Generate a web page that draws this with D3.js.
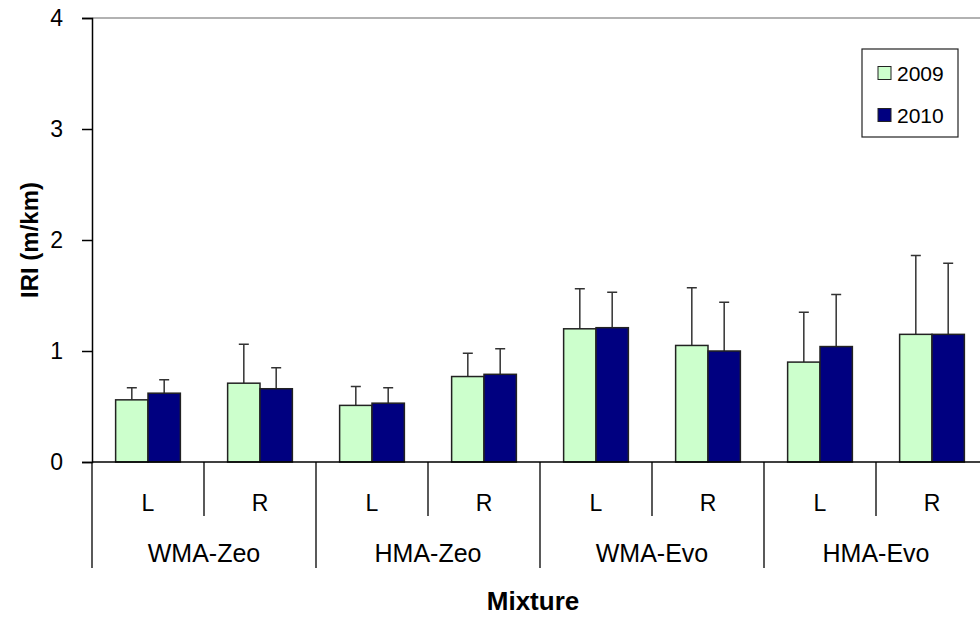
<!DOCTYPE html>
<html>
<head>
<meta charset="utf-8">
<script src="https://cdn.jsdelivr.net/npm/d3@7"></script>
<style>
  body { margin: 0; background: #fff; }
  svg text { font-family: "Liberation Sans", Arial, sans-serif; fill: #000; }
</style>
</head>
<body>
<div id="chart"></div>
<script>
// data
var groups = ["WMA-Zeo", "HMA-Zeo", "WMA-Evo", "HMA-Evo"];
var sides = ["L", "R"];
var years = ["2009", "2010"];
var iri2009 = [0.56, 0.71, 0.51, 0.77, 1.20, 1.05, 0.90, 1.15];
var iri2010 = [0.62, 0.66, 0.53, 0.79, 1.21, 1.00, 1.04, 1.15];
var err2009 = [0.11, 0.35, 0.17, 0.21, 0.36, 0.52, 0.45, 0.71];
var err2010 = [0.12, 0.19, 0.14, 0.23, 0.32, 0.44, 0.47, 0.64];
var yTicks = [0, 1, 2, 3, 4];

var width = 980, height = 617;
var plot = {left: 92, top: 18, right: 988, bottom: 462};

var svg = d3.select("#chart").append("svg")
    .attr("width", width)
    .attr("height", height);

// one band per group/side pair
var keys = [];
groups.forEach(function(g) { sides.forEach(function(s) { keys.push(g + "|" + s); }); });

var rows = keys.map(function(k, i) {
  return { key: k, side: k.split("|")[1], vals: [
    { year: "2009", v: iri2009[i], e: err2009[i] },
    { year: "2010", v: iri2010[i], e: err2010[i] }
  ]};
});

var x0 = d3.scaleBand().domain(keys).range([plot.left, plot.right]).padding(0);
var bw = x0.bandwidth();
var x1 = d3.scaleBand().domain(years).range([bw * 0.211, bw * 0.789]).padding(0);
var xg = d3.scaleBand().domain(groups).range([plot.left, plot.right]).padding(0);

var y = d3.scaleLinear().domain([0, 4]).range([plot.bottom, plot.top]);

var color = d3.scaleOrdinal().domain(years).range(["#ccffcc", "#000080"]);

// top border line
svg.append("line")
    .attr("x1", plot.left).attr("x2", plot.right)
    .attr("y1", y(4)).attr("y2", y(4))
    .attr("stroke", "#999").attr("stroke-width", 1.3);

// bars
var g = svg.append("g").selectAll("g")
    .data(rows)
    .enter().append("g")
    .attr("transform", function(d) { return "translate(" + x0(d.key) + ",0)"; });

// error bars (drawn first so bars sit over their base)
g.selectAll(".err")
    .data(function(d) { return d.vals; })
    .enter().append("path")
    .attr("d", function(d) {
      var cx = x1(d.year) + x1.bandwidth() / 2;
      return "M" + cx + "," + y(d.v) + "V" + y(d.v + d.e) +
             "M" + (cx - 5) + "," + y(d.v + d.e) + "H" + (cx + 5);
    })
    .attr("fill", "none")
    .attr("stroke", "#333")
    .attr("stroke-width", 1.5);

g.selectAll("rect")
    .data(function(d) { return d.vals; })
    .enter().append("rect")
    .attr("x", function(d) { return x1(d.year); })
    .attr("y", function(d) { return y(d.v); })
    .attr("width", x1.bandwidth())
    .attr("height", function(d) { return y(0) - y(d.v); })
    .attr("fill", function(d) { return color(d.year); })
    .attr("stroke", "#222")
    .attr("stroke-width", 1.5);

// y axis
var yAxis = svg.append("g")
    .attr("transform", "translate(" + plot.left + ",0)")
    .call(d3.axisLeft(y).tickValues(yTicks).tickSize(10).tickPadding(19).tickFormat(d3.format("d")));
yAxis.select(".domain").attr("stroke", "#000").attr("stroke-width", 1.5);
yAxis.selectAll(".tick line").attr("stroke", "#000").attr("stroke-width", 1.5);
yAxis.selectAll("text").style("font-size", "23px").attr("fill", "#000");

// baseline
svg.append("line")
    .attr("x1", plot.left).attr("x2", plot.right)
    .attr("y1", y(0)).attr("y2", y(0))
    .attr("stroke", "#000").attr("stroke-width", 1.5);

// category dividers: side-level and group-level
svg.append("g").selectAll("line")
    .data(keys.slice(1))
    .enter().append("line")
    .attr("x1", function(d) { return x0(d); })
    .attr("x2", function(d) { return x0(d); })
    .attr("y1", y(0))
    .attr("y2", function(d) { return d.split("|")[1] === "L" ? 568 : 516; })
    .attr("stroke", "#000").attr("stroke-width", 1.3);

svg.append("line")
    .attr("x1", plot.left).attr("x2", plot.left)
    .attr("y1", y(0)).attr("y2", 568)
    .attr("stroke", "#000").attr("stroke-width", 1.3);

svg.append("g").selectAll("text")
    .data(rows)
    .enter().append("text")
    .attr("x", function(d) { return x0(d.key) + bw / 2; })
    .attr("y", 511)
    .attr("text-anchor", "middle")
    .style("font-size", "23px")
    .text(function(d) { return d.side; });

svg.append("g").selectAll("text")
    .data(groups)
    .enter().append("text")
    .attr("x", function(d) { return xg(d) + xg.bandwidth() / 2; })
    .attr("y", 562)
    .attr("text-anchor", "middle")
    .style("font-size", "25px")
    .text(function(d) { return d; });

// axis titles
svg.append("text")
    .attr("x", 533).attr("y", 610)
    .attr("text-anchor", "middle")
    .style("font-size", "26px").style("font-weight", "bold")
    .text("Mixture");

svg.append("text")
    .attr("transform", "translate(38,240) rotate(-90)")
    .attr("text-anchor", "middle")
    .style("font-size", "24px").style("font-weight", "bold")
    .text("IRI (m/km)");

// legend
var legend = svg.append("g").attr("transform", "translate(862,49)");
legend.append("rect")
    .attr("width", 96).attr("height", 88)
    .attr("fill", "#fff").attr("stroke", "#222").attr("stroke-width", 1.2);
var li = legend.selectAll(".item")
    .data(years)
    .enter().append("g")
    .attr("transform", function(d, i) { return "translate(16," + (24 + i * 42) + ")"; });
li.append("rect")
    .attr("x", 0).attr("y", -6.5)
    .attr("width", 13).attr("height", 13)
    .attr("fill", function(d) { return color(d); })
    .attr("stroke", "#222").attr("stroke-width", 1);
li.append("text")
    .attr("x", 19).attr("y", 8)
    .style("font-size", "21px")
    .text(function(d) { return d; });
</script>
</body>
</html>
